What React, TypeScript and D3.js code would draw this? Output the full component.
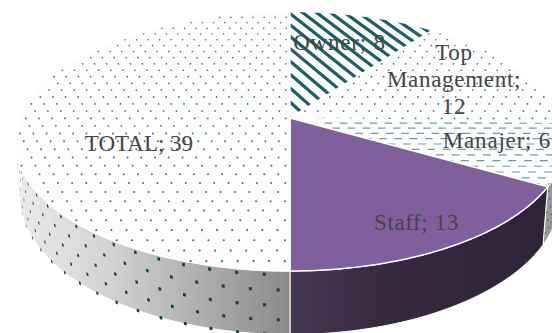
import React from "react";
import * as d3 from "d3";

// Ownership shares shown as a tilted 3D pie
const categories = ["Owner", "Top Management", "Manajer", "Staff", "TOTAL"];
const values = [8, 12, 6, 13, 39];
const labelLines = [["Owner; 8"], ["Top", "Management;", "12"], ["Manajer; 6"], ["Staff; 13"], ["TOTAL; 39"]];

const W = 552;
const H = 333;
const CX = 290;
const TILT = -0.1817;
const TEAL = "#1f5f6b";
const PURPLE = "#7f5f9c";

// Label centres, in the same order as the categories
const labelAnchors = [[339.5, 43], [454, 53], [497, 141], [416.5, 223], [139, 144]];
const labelSpacing = [0.8, 0.7, 0.8, 0.6, 0];

type Disc = { A: number; B: number; apexY: number };
const topDisc: Disc = { A: 125.2, B: 270.5, apexY: 118 };
const baseDisc: Disc = { A: 133.4, B: 265.6, apexY: 171.5 };

// Perspective projection of a position on the top disc plane
function planePoint(u: number, v: number): [number, number] {
  const w = 1 + TILT * v;
  return [CX + (topDisc.B * u) / w, topDisc.apexY + (topDisc.A * v) / w];
}
function project(angle: number, r: number, d: Disc): [number, number] {
  const u = r * Math.sin(angle);
  const v = -r * Math.cos(angle);
  const w = 1 + TILT * v;
  return [CX + (d.B * u) / w, d.apexY + (d.A * v) / w];
}
function wallPoint(angle: number, h: number): [number, number] {
  const a = project(angle, 1, topDisc);
  const b = project(angle, 1, baseDisc);
  return [a[0] + (b[0] - a[0]) * h, a[1] + (b[1] - a[1]) * h];
}

const arcs = d3.pie<number>().sort(null).startAngle(0).endAngle(2 * Math.PI)(values);
const line = d3.line();

function sweep(a0: number, a1: number) {
  const n = Math.max(2, Math.ceil((a1 - a0) / 0.02));
  return d3.range(n + 1).map((i) => a0 + ((a1 - a0) * i) / n);
}
function wedgePath(a0: number, a1: number) {
  const pts = sweep(a0, a1).map((a) => project(a, 1, topDisc));
  return line([[CX, topDisc.apexY], ...pts])! + "Z";
}
function wallPath(a0: number, a1: number) {
  const s = sweep(a0, a1);
  return line([...s.map((a) => wallPoint(a, 0)), ...s.slice().reverse().map((a) => wallPoint(a, 1))])! + "Z";
}
function inWedge(u: number, v: number, a0: number, a1: number) {
  if (u * u + v * v > 0.99) return false;
  let a = Math.atan2(u, -v);
  if (a < 0) a += 2 * Math.PI;
  return a >= a0 + 0.004 && a <= a1 - 0.004;
}

// Surface textures are laid out on the disc plane so they follow the perspective
function dotTexture(a0: number, a1: number) {
  const du = 0.048;
  const dv = 0.059;
  const out: React.ReactNode[] = [];
  let row = 0;
  for (let v = -1; v <= 1; v += dv, row++) {
    for (let u = -1 + (row % 2 ? du / 2 : 0); u <= 1; u += du) {
      if (!inWedge(u, v, a0, a1)) continue;
      const [cx, cy] = planePoint(u, v);
      out.push(
        <circle key={`${a0}-${row}-${u}`} cx={cx} cy={cy} r={0.9 / (1 + TILT * v)} fill={TEAL} opacity={0.9} />
      );
    }
  }
  return out;
}
function stripeTexture() {
  const slope = 2;
  const step = 0.1218;
  const out: React.ReactNode[] = [];
  for (let c = -1.714 - 4 * step; c < 0.2; c += step) {
    const p = planePoint((-1.1 - c) / slope, -1.1);
    const q = planePoint((0.05 - c) / slope, 0.05);
    out.push(<line key={c} x1={p[0]} y1={p[1]} x2={q[0]} y2={q[1]} stroke="#1b5f68" strokeWidth={3.2} />);
  }
  return <g clipPath="url(#clip-stripes)">{out}</g>;
}
function dashTexture() {
  const out: React.ReactNode[] = [];
  const dv = 0.04;
  const du = 0.055;
  let row = 0;
  for (let v = 0.0; v <= 0.6; v += dv, row++) {
    for (let u = 0.1 + (row % 2 ? du / 2 : 0); u <= 1.05; u += du) {
      const p = planePoint(u, v);
      const q = planePoint(u + du * 0.5, v);
      out.push(
        <line
          key={`${row}-${u}`}
          x1={p[0]}
          x2={q[0]}
          y1={p[1]}
          y2={q[1]}
          stroke="#3d7f8c"
          strokeOpacity={0.75}
          strokeWidth={1.2}
        />
      );
    }
  }
  return <g clipPath="url(#clip-dashes)">{out}</g>;
}
function wallDots(a1: number) {
  const da = 0.0848;
  const out: React.ReactNode[] = [];
  [0.06, 0.3, 0.54, 0.77, 1.0].forEach((h, i) => {
    for (let a = Math.PI + (i % 2 ? 0.036 : 0.078); a < a1; a += da) {
      const size = 0.0048;
      const e = 0.025;
      const poly = [
        wallPoint(a - size, h - e),
        wallPoint(a + size, h - e),
        wallPoint(a + size, h + e),
        wallPoint(a - size, h + e),
      ];
      out.push(<path key={`${i}-${a}`} d={line(poly)! + "Z"} fill="#17414a" />);
    }
  });
  return out;
}
function wallDashes(a0: number, a1: number) {
  const out: React.ReactNode[] = [];
  [0.12, 0.3, 0.48, 0.66, 0.84].forEach((h, i) => {
    for (let a = a0 + 0.02 + (i % 2 ? 0.02 : 0); a < a1; a += 0.04) {
      const p = wallPoint(a, h);
      const q = wallPoint(a + 0.02, h - 0.02);
      out.push(<line key={`${i}-${a}`} x1={p[0]} y1={p[1]} x2={q[0]} y2={q[1]} stroke="#2c4a50" strokeWidth={1} />);
    }
  });
  return out;
}

export default function App() {
  return (
    <svg width={W} height={H} viewBox={`0 0 ${W} ${H}`} style={{ position: "absolute", left: 0, top: 0 }}>
      <defs>
        <linearGradient id="wall-grey" gradientUnits="userSpaceOnUse" x1={15} x2={290} y1={0} y2={0}>
          <stop offset="0" stopColor="#ececec" />
          <stop offset="0.35" stopColor="#d2d2d2" />
          <stop offset="1" stopColor="#8a8a8a" />
        </linearGradient>
        <linearGradient id="wall-purple" gradientUnits="userSpaceOnUse" x1={290} x2={545} y1={0} y2={0}>
          <stop offset="0" stopColor="#463750" />
          <stop offset="0.4" stopColor="#34293f" />
          <stop offset="1" stopColor="#2e2439" />
        </linearGradient>
        <clipPath id="clip-stripes">
          <path d={wedgePath(arcs[0].startAngle, arcs[0].endAngle)} />
        </clipPath>
        <clipPath id="clip-dashes">
          <path d={wedgePath(arcs[2].startAngle, arcs[2].endAngle)} />
        </clipPath>
      </defs>

      {/* side walls */}
      {arcs.map((d, i) => {
        const a0 = Math.max(d.startAngle, Math.PI / 2);
        const a1 = d.endAngle;
        if (a1 <= Math.PI / 2) return null;
        const wallFill = i === 3 ? "url(#wall-purple)" : i === 2 ? "#9a9a9a" : "url(#wall-grey)";
        return (
          <g key={categories[i]}>
            <path d={wallPath(a0, a1)} fill={wallFill} stroke="#fff" strokeWidth={1} />
            {i === 2 && wallDashes(a0, a1)}
            {i === 4 && wallDots(1.5 * Math.PI + 0.2)}
          </g>
        );
      })}

      {/* top surfaces */}
      {arcs.map((d, i) => {
        const kind = i === 0 ? "stripes" : i === 2 ? "dashes" : i === 3 ? "solid" : "dots";
        const fill = kind === "solid" ? PURPLE : "#fcfcfc";
        return (
          <g key={categories[i]}>
            <path d={wedgePath(d.startAngle, d.endAngle)} fill={fill} stroke="#fff" strokeWidth={1.5} />
            {kind === "dots" && dotTexture(d.startAngle, d.endAngle)}
            {kind === "dashes" && dashTexture()}
            {kind === "stripes" && stripeTexture()}
          </g>
        );
      })}

      {/* data labels */}
      {labelLines.map((lines, i) => (
        <text
          key={categories[i]}
          textAnchor="middle"
          fontFamily="'Liberation Serif', serif"
          fontSize={23}
          letterSpacing={labelSpacing[i]}
          fill="#454545"
        >
          {lines.map((t, j) => (
            <tspan key={t} x={labelAnchors[i][0]} y={labelAnchors[i][1] + j * 27 + 7}>
              {t}
            </tspan>
          ))}
        </text>
      ))}
    </svg>
  );
}
